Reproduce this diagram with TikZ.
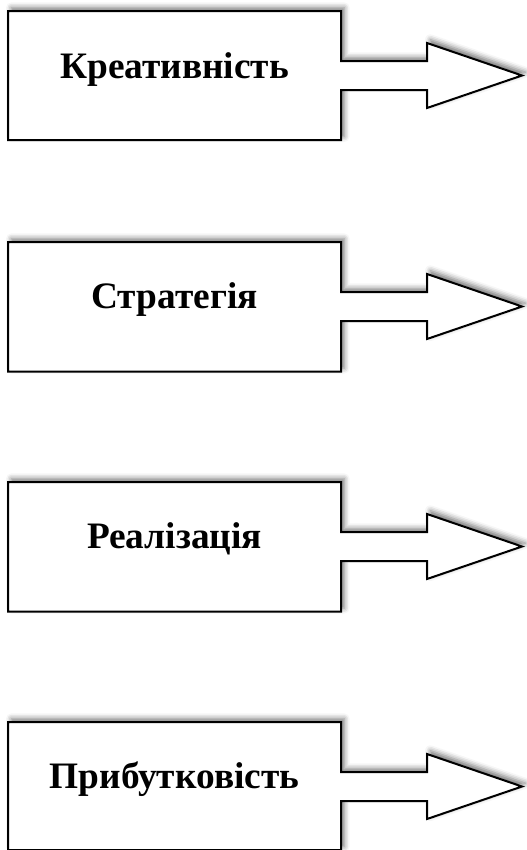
\documentclass[tikz,border=0pt]{standalone}
\usepackage{fontspec}
\setmainfont{Liberation Serif}
\usetikzlibrary{shadows.blur}

\begin{document}
\begin{tikzpicture}[x=0.75pt, y=-0.75pt,
        outline/.style={line width=1.5pt, fill=white, line join=miter,
            blur shadow={shadow xshift=2.5pt, shadow yshift=2.5pt,
                shadow blur radius=4pt, shadow opacity=55}},
        boxtext/.style={font=\fontsize{28}{34}\selectfont\bfseries, anchor=base}]
        \useasboundingbox (0, 0) rectangle (526, 850);

        \draw[outline] (8, 11) -- (341, 11) -- (341, 61) -- (427, 61) -- (427, 43) -- (522, 75.5)
            -- (427, 108) -- (427, 90) -- (341, 90) -- (341, 140) -- (8, 140) -- cycle;
        \node[boxtext] (kreat) at (174.5, 78) {Креативність};

        \draw[outline] (8, 242) -- (341, 242) -- (341, 292) -- (427, 292) -- (427, 274) -- (522, 306.5)
            -- (427, 339) -- (427, 321) -- (341, 321) -- (341, 371.5) -- (8, 371.5) -- cycle;
        \node[boxtext] (strat) at (174.5, 308) {Стратегія};

        \draw[outline] (8, 482) -- (341, 482) -- (341, 532) -- (427, 532) -- (427, 514) -- (522, 546.5)
            -- (427, 579) -- (427, 561) -- (341, 561) -- (341, 611.5) -- (8, 611.5) -- cycle;
        \node[boxtext] (real) at (174.5, 548) {Реалізація};

        \draw[outline] (8, 722) -- (341, 722) -- (341, 772) -- (427, 772) -- (427, 754) -- (522, 786.5)
            -- (427, 819) -- (427, 801) -- (341, 801) -- (341, 850) -- (8, 850) -- cycle;
        \node[boxtext] (prib) at (174.5, 788) {Прибутковість};
    \end{tikzpicture}
\end{document}
